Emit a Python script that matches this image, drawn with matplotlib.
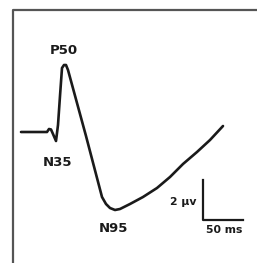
import matplotlib
matplotlib.use("Agg")
import matplotlib.pyplot as plt
from matplotlib.lines import Line2D

# Waveform: latency (ms) and amplitude (uV)
latency_ms = [-10, 22.5, 25, 27.5, 30, 33.75, 36.25, 38.75, 41.25, 43.75, 46.25, 48.75,
              71.25, 91.25, 96.25, 101.25, 107.5, 113.75, 126.25, 142.5, 160, 176.25,
              192.5, 210, 226.25, 242.5]
amplitude_uv = [0, 0, 0.15, 0.125, -0.1, -0.45, 0.35, 1.8, 3.2, 3.35, 3.35, 3.1,
                -0.2, -3.25, -3.6, -3.8, -3.9, -3.85, -3.6, -3.25, -2.8, -2.25,
                -1.6, -1.0, -0.4, 0.3]

# Peak labels and their anchor positions (ms, uV)
peak_labels = ["P50", "N35", "N95"]
peak_label_t = [44, 36, 105]
peak_label_a = [4.05, -1.55, -4.8]

# Scale bar: 50 ms x 2 uV
scale_t0, scale_a0 = 217.5, -4.4
scale_dt, scale_da = 50, 2
scale_labels = ["50 ms", "2 \u03bcv"]

fig = plt.figure(figsize=(2.57, 2.63), dpi=100)
fig.patch.set_facecolor("white")
ax = fig.add_axes([0, 0, 1, 1])
ax.set_xlim(-36.25, 285)
ax.set_ylim(-6.55, 6.6)
ax.axis("off")

ax.plot(latency_ms, amplitude_uv, color="#1a1a1a", lw=1.9,
        solid_joinstyle="round", solid_capstyle="round")

for lab, t, a in zip(peak_labels, peak_label_t, peak_label_a):
    ax.text(t, a, lab, ha="center", va="center", fontsize=9.5,
            fontweight="bold", color="#1a1a1a", family="DejaVu Sans")

# scale bar
ax.plot([scale_t0, scale_t0, scale_t0 + scale_dt],
        [scale_a0 + scale_da, scale_a0, scale_a0], color="#1a1a1a", lw=1.6)
ax.text(scale_t0 + scale_dt / 2 + 1, scale_a0 - 0.5, scale_labels[0], ha="center",
        va="center", fontsize=7.8, fontweight="bold", color="#1a1a1a")
ax.text(scale_t0 - 8, scale_a0 + 0.9, scale_labels[1], ha="right",
        va="center", fontsize=7.8, fontweight="bold", color="#1a1a1a")

# frame (top and left border)
fig.add_artist(Line2D([13 / 257, 13 / 257, 1.0], [0.0, 1 - 10 / 263, 1 - 10 / 263],
                      transform=fig.transFigure, color="#555555", lw=1.6))

fig.savefig("out.png", dpi=100)
